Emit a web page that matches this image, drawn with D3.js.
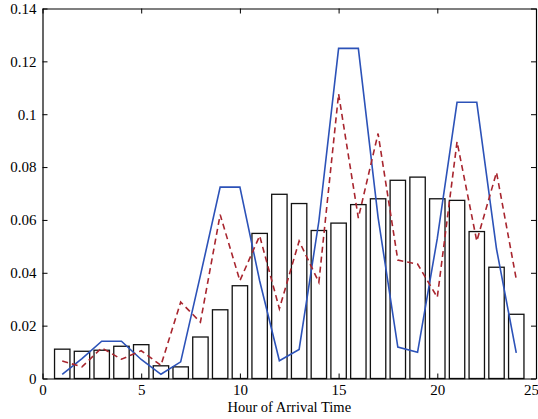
<!DOCTYPE html>
<html>
<head>
<meta charset="utf-8">
<script src="https://cdn.jsdelivr.net/npm/d3@7"></script>
<style>
  body { margin: 0; background: #fff; }
  text { font-family: "Liberation Serif", "DejaVu Serif", serif; }
</style>
</head>
<body>
<svg id="chart" width="538" height="419"></svg>
<script>
// hour of arrival, 1..24
var hours = d3.range(1, 25);
// histogram bars
var barValues = [0.0111, 0.0103, 0.0107, 0.0122, 0.0128, 0.0048, 0.0044, 0.0157,
  0.0260, 0.0351, 0.0549, 0.0697, 0.0662, 0.0560, 0.0588, 0.0658,
  0.0680, 0.0750, 0.0762, 0.0680, 0.0674, 0.0556, 0.0421, 0.0243];
// solid blue line
var blueValues = [0.0016, 0.0075, 0.0141, 0.0141, 0.0072, 0.0016, 0.0063, 0.0390,
  0.0724, 0.0724, 0.0370, 0.0067, 0.0110, 0.0595, 0.1249, 0.1249,
  0.0610, 0.0119, 0.0099, 0.0530, 0.1045, 0.1045, 0.0490, 0.0097];
// dashed red line
var redValues = [0.0066, 0.0044, 0.0116, 0.0073, 0.0105, 0.0050, 0.0289, 0.0213,
  0.0620, 0.0370, 0.0540, 0.0264, 0.0520, 0.0364, 0.1077, 0.0607,
  0.0927, 0.0448, 0.0433, 0.0307, 0.0896, 0.0520, 0.0780, 0.0376];
var xTicks = [0, 5, 10, 15, 20, 25];
var yTicks = [0, 0.02, 0.04, 0.06, 0.08, 0.1, 0.12, 0.14];

var svg = d3.select("#chart"),
  margin = {top: 8.5, right: 2, bottom: 40.5, left: 42.5},
  width = +svg.attr("width") - margin.left - margin.right,
  height = +svg.attr("height") - margin.top - margin.bottom;

var x = d3.scaleLinear().domain([0, 25]).range([0, width]);
var y = d3.scaleLinear().domain([0, 0.14]).range([height, 0]);

var g = svg.append("g")
  .attr("transform", "translate(" + margin.left + "," + margin.top + ")");

var barW = 0.78;

g.selectAll(".bar")
  .data(barValues)
  .enter().append("rect")
  .attr("class", "bar")
  .attr("x", function(d, i) { return x(hours[i] - barW / 2); })
  .attr("y", function(d) { return y(d); })
  .attr("width", x(barW) - x(0))
  .attr("height", function(d) { return y(0) - y(d); })
  .attr("fill", "#fff")
  .attr("stroke", "#111")
  .attr("stroke-width", 1.3);

var line = d3.line()
  .x(function(d, i) { return x(hours[i]); })
  .y(function(d) { return y(d); });

g.append("path")
  .datum(blueValues)
  .attr("d", line)
  .attr("fill", "none")
  .attr("stroke", "#2c52b8")
  .attr("stroke-width", 1.6);

g.append("path")
  .datum(redValues)
  .attr("d", line)
  .attr("fill", "none")
  .attr("stroke", "#a8252e")
  .attr("stroke-width", 1.6)
  .attr("stroke-dasharray", "6,4");

// axes with inward ticks
var fmt = function(d) { return String(+d.toFixed(2)); };

g.append("g")
  .attr("class", "x axis")
  .attr("transform", "translate(0," + height + ")")
  .call(d3.axisBottom(x).tickValues(xTicks).tickSizeInner(-5).tickSizeOuter(0).tickPadding(6));

g.append("g")
  .attr("class", "x axis top")
  .call(d3.axisTop(x).tickValues(xTicks).tickSizeInner(-5).tickSizeOuter(0).tickFormat(""));

g.append("g")
  .attr("class", "y axis")
  .call(d3.axisLeft(y).tickValues(yTicks).tickFormat(fmt).tickSizeInner(-5).tickSizeOuter(0).tickPadding(6));

g.append("g")
  .attr("class", "y axis right")
  .attr("transform", "translate(" + width + ",0)")
  .call(d3.axisRight(y).tickValues(yTicks).tickSizeInner(-5).tickSizeOuter(0).tickFormat(""));

g.selectAll(".axis path").attr("stroke", "#000").attr("stroke-width", 1.2);
g.selectAll(".axis line").attr("stroke", "#000").attr("stroke-width", 1);
g.selectAll(".axis text")
  .attr("font-family", "Liberation Serif, serif")
  .attr("font-size", 15)
  .attr("fill", "#000");

// keep the last x label inside the page
g.selectAll(".x.axis:not(.top) .tick text")
  .filter(function(d) { return d === 25; })
  .attr("dx", -5);

svg.append("text")
  .attr("x", margin.left + x(12.5))
  .attr("y", 412)
  .attr("text-anchor", "middle")
  .attr("font-size", 14.5)
  .attr("fill", "#000")
  .text("Hour of Arrival Time");
</script>
</body>
</html>
